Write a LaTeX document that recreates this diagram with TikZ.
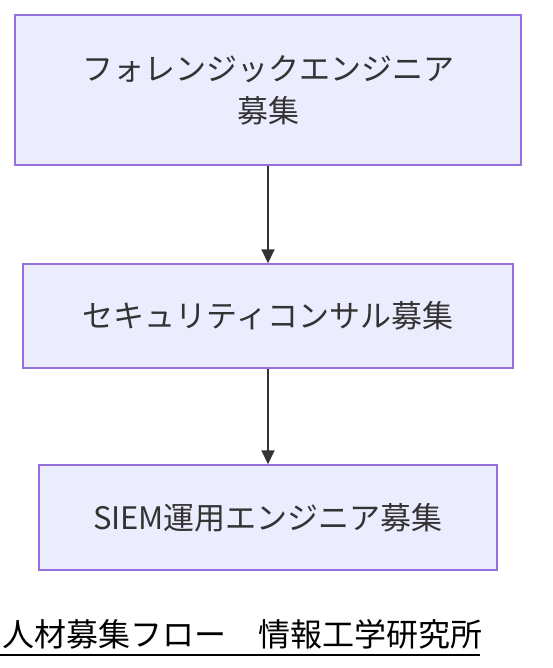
\documentclass[tikz,border=0pt]{standalone}
\usepackage{fontspec}
\setmainfont{Noto Sans CJK JP}
\newfontfamily\capfont{Noto Sans CJK JP}
\usetikzlibrary{arrows.meta}
\definecolor{boxfill}{HTML}{ECECFF}
\definecolor{boxline}{HTML}{9370DB}
\definecolor{txt}{HTML}{333333}
\tikzset{
  flowbox/.style={draw=boxline, fill=boxfill, line width=1.5pt, text=txt, font=\fontsize{31}{42}\selectfont, align=center, inner sep=0pt},
  flowarrow/.style={draw=txt, line width=2pt, -{Triangle[length=14pt,width=13pt]}}
}
\begin{document}
\begin{tikzpicture}[x=1pt,y=-1pt]
\useasboundingbox (0,0) rectangle (552,668);
\node[flowbox, minimum width=506pt, minimum height=150pt] (a) at (268,90) {フォレンジックエンジニア\\募集};
\node[flowbox, minimum width=490pt, minimum height=104pt] (b) at (268,316) {セキュリティコンサル募集};
\node[flowbox, minimum width=458pt, minimum height=105pt] (c) at (268,517.5) {SIEM運用エンジニア募集};
\draw[flowarrow] (a) -- (b);
\draw[flowarrow] (b) -- (c);
\node[anchor=base west, inner sep=0pt, font=\capfont\fontsize{32}{36}\selectfont, text=black] (cap) at (2,646) {人材募集フロー　情報工学研究所};
\draw[black, line width=2pt] (0,655) -- (480,655);
\end{tikzpicture}
\end{document}
